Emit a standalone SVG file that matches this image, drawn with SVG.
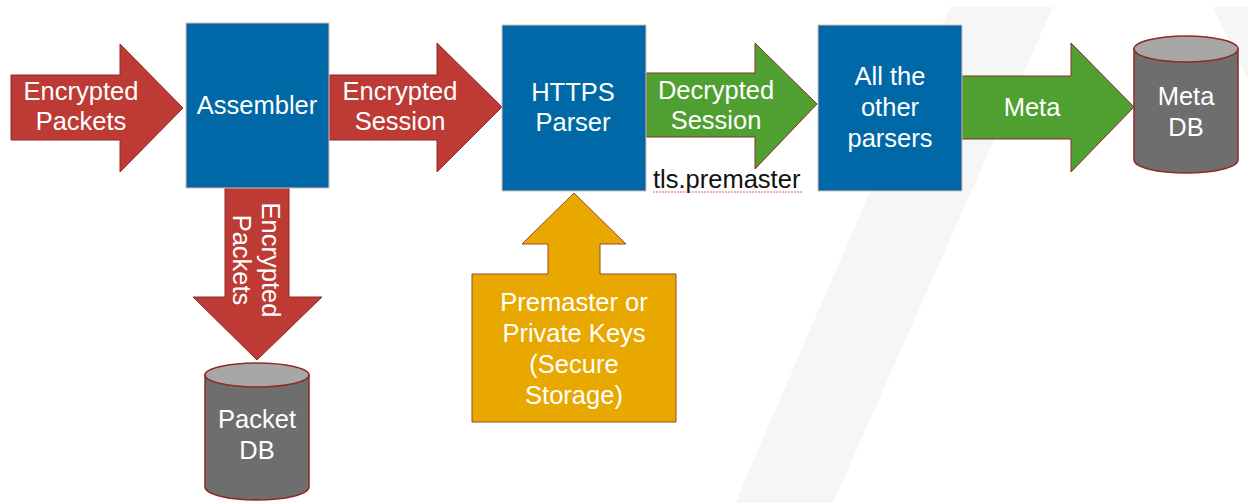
<svg xmlns="http://www.w3.org/2000/svg" width="1248" height="503" viewBox="0 0 1248 503">
<style>
  .bg { fill: #f5f6f6; stroke: none; }
  .box { fill: #0068a6; stroke: #e9b8b8; stroke-width: 1; }
  .red { fill: #be3a34; stroke: #8f2a26; stroke-width: 1; }
  .green { fill: #50a031; stroke: #8f2a26; stroke-width: 1; }
  .yellow { fill: #e8a800; stroke: #9a4a2a; stroke-width: 1; }
  .cylbody { fill: #6d6e6d; stroke: #8f2a26; stroke-width: 1.5; }
  .cyltop { fill: #a6a7a6; stroke: #8f2a26; stroke-width: 1.5; }
  .t { font-family: "Liberation Sans", Arial, sans-serif; font-size: 25.5px; fill: #ffffff; text-anchor: middle; }
  .lbl { font-family: "Liberation Sans", Arial, sans-serif; font-size: 25.5px; fill: #111111; }
</style>
<rect x="0" y="0" width="1248" height="503" fill="#ffffff"/>
<g id="background">
  <polygon class="bg" points="950,7 1053,7 833,503 735,503"/>
  <polygon class="bg" points="1213,7 1248,7 1248,80"/>
</g>
<g id="connectors">
  <g id="arrow-encrypted-packets">
    <polygon class="red" points="11,75 120,75 120,44 183,108 120,172 120,140 11,140"/>
    <text class="t" x="81" y="100">Encrypted</text>
    <text class="t" x="81" y="130">Packets</text>
  </g>
  <g id="arrow-encrypted-session">
    <polygon class="red" points="329,75 437,75 437,43 502,107 437,172 437,140 329,140"/>
    <text class="t" x="400" y="100">Encrypted</text>
    <text class="t" x="400" y="130">Session</text>
  </g>
  <g id="arrow-decrypted-session">
    <polygon class="green" points="646,73 755,73 755,43 817,104 755,169 755,137 646,137"/>
    <text class="t" x="716" y="99">Decrypted</text>
    <text class="t" x="716" y="129">Session</text>
  </g>
  <g id="arrow-meta">
    <polygon class="green" points="962,76 1071,76 1071,43 1134,107 1071,172 1071,139 962,139"/>
    <text class="t" x="1032" y="116">Meta</text>
  </g>
  <g id="arrow-packets-down">
    <polygon class="red" points="225,188 289,188 289,297 322,297 257,360 193,297 225,297"/>
    <text class="t" transform="translate(262,260) rotate(90)" x="0" y="0">Encrypted</text>
    <text class="t" transform="translate(233,260) rotate(90)" x="0" y="0">Packets</text>
  </g>
  <g id="tls-label">
    <text class="lbl" x="653" y="188">tls.premaster</text>
    <path d="M653,192 L802,192" stroke="#e06060" stroke-width="1" fill="none" stroke-dasharray="2,1"/>
  </g>
</g>
<g id="assembler">
  <rect class="box" x="186" y="23" width="143" height="165"/>
  <text class="t" x="257" y="114">Assembler</text>
</g>
<g id="https-parser">
  <rect class="box" x="502" y="25" width="144" height="166"/>
  <text class="t" x="573" y="101">HTTPS</text>
  <text class="t" x="573" y="131">Parser</text>
</g>
<g id="other-parsers">
  <rect class="box" x="818" y="25" width="144" height="166"/>
  <text class="t" x="890" y="85">All the</text>
  <text class="t" x="890" y="116">other</text>
  <text class="t" x="890" y="147">parsers</text>
</g>
<g id="meta-db">
  <path class="cylbody" d="M1134,49 L1134,160 A52,13 0 0 0 1238,160 L1238,49 Z"/>
  <ellipse class="cyltop" cx="1186" cy="49" rx="52" ry="13"/>
  <text class="t" x="1186" y="105">Meta</text>
  <text class="t" x="1186" y="136">DB</text>
</g>
<g id="packet-db">
  <path class="cylbody" d="M205,375 L205,487 A52,13 0 0 0 309,487 L309,375 Z"/>
  <ellipse class="cyltop" cx="257" cy="375" rx="52" ry="12"/>
  <text class="t" x="257" y="428">Packet</text>
  <text class="t" x="257" y="459">DB</text>
</g>
<g id="secure-storage">
  <polygon class="yellow" points="574,193 626,244 600,244 600,274 676,274 676,422 472,422 472,274 548,274 548,244 522,244"/>
  <text class="t" x="574" y="311">Premaster or</text>
  <text class="t" x="574" y="342">Private Keys</text>
  <text class="t" x="574" y="373">(Secure</text>
  <text class="t" x="574" y="404">Storage)</text>
</g>
</svg>
